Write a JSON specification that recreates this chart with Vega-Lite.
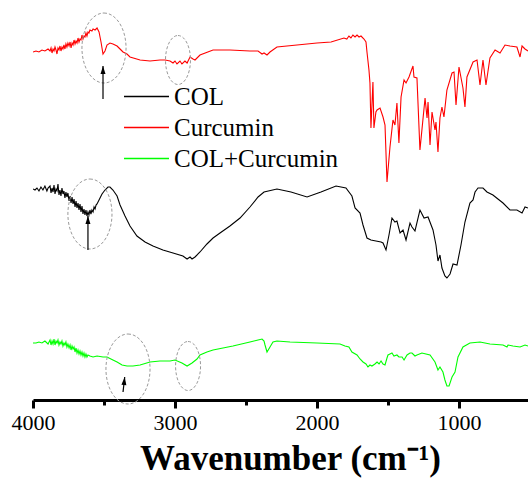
{
  "$schema": "https://vega.github.io/schema/vega-lite/v6.json",
  "width": 495,
  "height": 400,
  "autosize": {"type": "none"},
  "padding": {"left": 33, "top": 0, "right": 0, "bottom": 78},
  "config": {"view": {"stroke": null}, "font": "Liberation Serif"},
  "datasets": {
    "spectra": [
      {"s":"Curcumin","w":4000,"T":348},{"s":"Curcumin","w":3979,"T":349},{"s":"Curcumin","w":3958,"T":348},{"s":"Curcumin","w":3937,"T":350},{"s":"Curcumin","w":3916,"T":349},{"s":"Curcumin","w":3894,"T":351},{"s":"Curcumin","w":3880,"T":349},{"s":"Curcumin","w":3873,"T":352},{"s":"Curcumin","w":3866,"T":347},{"s":"Curcumin","w":3859,"T":351},{"s":"Curcumin","w":3852,"T":349},{"s":"Curcumin","w":3845,"T":353},{"s":"Curcumin","w":3838,"T":350},{"s":"Curcumin","w":3831,"T":346},{"s":"Curcumin","w":3824,"T":352},{"s":"Curcumin","w":3817,"T":350},{"s":"Curcumin","w":3810,"T":354},{"s":"Curcumin","w":3803,"T":349},{"s":"Curcumin","w":3796,"T":353},{"s":"Curcumin","w":3789,"T":351},{"s":"Curcumin","w":3782,"T":355},{"s":"Curcumin","w":3775,"T":351},{"s":"Curcumin","w":3768,"T":356},{"s":"Curcumin","w":3761,"T":353},{"s":"Curcumin","w":3754,"T":357},{"s":"Curcumin","w":3746,"T":354},{"s":"Curcumin","w":3739,"T":358},{"s":"Curcumin","w":3732,"T":352},{"s":"Curcumin","w":3725,"T":357},{"s":"Curcumin","w":3718,"T":355},{"s":"Curcumin","w":3711,"T":360},{"s":"Curcumin","w":3704,"T":356},{"s":"Curcumin","w":3697,"T":359},{"s":"Curcumin","w":3690,"T":357},{"s":"Curcumin","w":3683,"T":362},{"s":"Curcumin","w":3676,"T":358},{"s":"Curcumin","w":3669,"T":361},{"s":"Curcumin","w":3662,"T":360},{"s":"Curcumin","w":3655,"T":365},{"s":"Curcumin","w":3648,"T":361},{"s":"Curcumin","w":3641,"T":364},{"s":"Curcumin","w":3634,"T":363},{"s":"Curcumin","w":3627,"T":367},{"s":"Curcumin","w":3620,"T":364},{"s":"Curcumin","w":3613,"T":368},{"s":"Curcumin","w":3606,"T":367},{"s":"Curcumin","w":3599,"T":370},{"s":"Curcumin","w":3585,"T":369},{"s":"Curcumin","w":3577,"T":371},{"s":"Curcumin","w":3563,"T":370},{"s":"Curcumin","w":3549,"T":372},{"s":"Curcumin","w":3535,"T":368},{"s":"Curcumin","w":3521,"T":358},{"s":"Curcumin","w":3507,"T":346},{"s":"Curcumin","w":3493,"T":349},{"s":"Curcumin","w":3479,"T":355},{"s":"Curcumin","w":3458,"T":357},{"s":"Curcumin","w":3437,"T":356},{"s":"Curcumin","w":3408,"T":354},{"s":"Curcumin","w":3387,"T":351},{"s":"Curcumin","w":3366,"T":348},{"s":"Curcumin","w":3338,"T":346},{"s":"Curcumin","w":3317,"T":343},{"s":"Curcumin","w":3246,"T":340},{"s":"Curcumin","w":3176,"T":339},{"s":"Curcumin","w":3106,"T":340},{"s":"Curcumin","w":3070,"T":340},{"s":"Curcumin","w":3035,"T":339},{"s":"Curcumin","w":3014,"T":337},{"s":"Curcumin","w":3000,"T":339},{"s":"Curcumin","w":2986,"T":336},{"s":"Curcumin","w":2965,"T":339},{"s":"Curcumin","w":2951,"T":336},{"s":"Curcumin","w":2930,"T":339},{"s":"Curcumin","w":2915,"T":337},{"s":"Curcumin","w":2894,"T":343},{"s":"Curcumin","w":2873,"T":341},{"s":"Curcumin","w":2859,"T":340},{"s":"Curcumin","w":2824,"T":345},{"s":"Curcumin","w":2732,"T":350},{"s":"Curcumin","w":2613,"T":350},{"s":"Curcumin","w":2472,"T":349},{"s":"Curcumin","w":2415,"T":349},{"s":"Curcumin","w":2387,"T":346},{"s":"Curcumin","w":2373,"T":347},{"s":"Curcumin","w":2352,"T":345},{"s":"Curcumin","w":2331,"T":348},{"s":"Curcumin","w":2282,"T":353},{"s":"Curcumin","w":2141,"T":355},{"s":"Curcumin","w":2000,"T":357},{"s":"Curcumin","w":1901,"T":358},{"s":"Curcumin","w":1810,"T":362},{"s":"Curcumin","w":1790,"T":361},{"s":"Curcumin","w":1775,"T":364},{"s":"Curcumin","w":1761,"T":362},{"s":"Curcumin","w":1747,"T":365},{"s":"Curcumin","w":1732,"T":363},{"s":"Curcumin","w":1718,"T":365},{"s":"Curcumin","w":1704,"T":363},{"s":"Curcumin","w":1690,"T":364},{"s":"Curcumin","w":1669,"T":361},{"s":"Curcumin","w":1655,"T":358},{"s":"Curcumin","w":1648,"T":348},{"s":"Curcumin","w":1634,"T":330},{"s":"Curcumin","w":1627,"T":317},{"s":"Curcumin","w":1620,"T":272},{"s":"Curcumin","w":1606,"T":318},{"s":"Curcumin","w":1599,"T":272},{"s":"Curcumin","w":1585,"T":288},{"s":"Curcumin","w":1577,"T":290},{"s":"Curcumin","w":1556,"T":292},{"s":"Curcumin","w":1535,"T":283},{"s":"Curcumin","w":1521,"T":275},{"s":"Curcumin","w":1507,"T":218},{"s":"Curcumin","w":1486,"T":253},{"s":"Curcumin","w":1465,"T":280},{"s":"Curcumin","w":1451,"T":275},{"s":"Curcumin","w":1437,"T":297},{"s":"Curcumin","w":1423,"T":257},{"s":"Curcumin","w":1408,"T":303},{"s":"Curcumin","w":1387,"T":320},{"s":"Curcumin","w":1373,"T":317},{"s":"Curcumin","w":1352,"T":323},{"s":"Curcumin","w":1324,"T":334},{"s":"Curcumin","w":1317,"T":323},{"s":"Curcumin","w":1296,"T":322},{"s":"Curcumin","w":1275,"T":250},{"s":"Curcumin","w":1239,"T":302},{"s":"Curcumin","w":1225,"T":282},{"s":"Curcumin","w":1218,"T":298},{"s":"Curcumin","w":1204,"T":255},{"s":"Curcumin","w":1190,"T":288},{"s":"Curcumin","w":1169,"T":270},{"s":"Curcumin","w":1162,"T":278},{"s":"Curcumin","w":1148,"T":248},{"s":"Curcumin","w":1134,"T":282},{"s":"Curcumin","w":1120,"T":293},{"s":"Curcumin","w":1106,"T":283},{"s":"Curcumin","w":1085,"T":310},{"s":"Curcumin","w":1049,"T":327},{"s":"Curcumin","w":1035,"T":328},{"s":"Curcumin","w":1021,"T":295},{"s":"Curcumin","w":1000,"T":333},{"s":"Curcumin","w":972,"T":312},{"s":"Curcumin","w":958,"T":293},{"s":"Curcumin","w":944,"T":323},{"s":"Curcumin","w":901,"T":338},{"s":"Curcumin","w":873,"T":340},{"s":"Curcumin","w":852,"T":315},{"s":"Curcumin","w":831,"T":340},{"s":"Curcumin","w":810,"T":315},{"s":"Curcumin","w":782,"T":342},{"s":"Curcumin","w":746,"T":350},{"s":"Curcumin","w":711,"T":347},{"s":"Curcumin","w":676,"T":355},{"s":"Curcumin","w":641,"T":354},{"s":"Curcumin","w":592,"T":353},{"s":"Curcumin","w":570,"T":343},{"s":"Curcumin","w":556,"T":354},{"s":"Curcumin","w":535,"T":351},{"s":"Curcumin","w":514,"T":349},
      {"s":"COL","w":4000,"T":211},{"s":"COL","w":3986,"T":210},{"s":"COL","w":3972,"T":212},{"s":"COL","w":3958,"T":209},{"s":"COL","w":3944,"T":213},{"s":"COL","w":3930,"T":210},{"s":"COL","w":3916,"T":214},{"s":"COL","w":3902,"T":209},{"s":"COL","w":3894,"T":212},{"s":"COL","w":3880,"T":214},{"s":"COL","w":3873,"T":207},{"s":"COL","w":3866,"T":212},{"s":"COL","w":3859,"T":208},{"s":"COL","w":3852,"T":215},{"s":"COL","w":3845,"T":206},{"s":"COL","w":3838,"T":211},{"s":"COL","w":3831,"T":209},{"s":"COL","w":3824,"T":216},{"s":"COL","w":3817,"T":205},{"s":"COL","w":3810,"T":210},{"s":"COL","w":3803,"T":204},{"s":"COL","w":3796,"T":212},{"s":"COL","w":3789,"T":206},{"s":"COL","w":3782,"T":209},{"s":"COL","w":3775,"T":202},{"s":"COL","w":3768,"T":208},{"s":"COL","w":3761,"T":203},{"s":"COL","w":3754,"T":207},{"s":"COL","w":3746,"T":199},{"s":"COL","w":3739,"T":204},{"s":"COL","w":3732,"T":197},{"s":"COL","w":3725,"T":203},{"s":"COL","w":3718,"T":196},{"s":"COL","w":3711,"T":201},{"s":"COL","w":3704,"T":193},{"s":"COL","w":3697,"T":199},{"s":"COL","w":3690,"T":192},{"s":"COL","w":3683,"T":197},{"s":"COL","w":3676,"T":190},{"s":"COL","w":3669,"T":196},{"s":"COL","w":3662,"T":188},{"s":"COL","w":3655,"T":194},{"s":"COL","w":3648,"T":186},{"s":"COL","w":3641,"T":191},{"s":"COL","w":3634,"T":185},{"s":"COL","w":3627,"T":190},{"s":"COL","w":3620,"T":184},{"s":"COL","w":3613,"T":188},{"s":"COL","w":3606,"T":185},{"s":"COL","w":3599,"T":190},{"s":"COL","w":3592,"T":186},{"s":"COL","w":3585,"T":190},{"s":"COL","w":3577,"T":188},{"s":"COL","w":3570,"T":193},{"s":"COL","w":3563,"T":191},{"s":"COL","w":3556,"T":195},{"s":"COL","w":3549,"T":196},{"s":"COL","w":3528,"T":202},{"s":"COL","w":3514,"T":206},{"s":"COL","w":3493,"T":210},{"s":"COL","w":3472,"T":213},{"s":"COL","w":3458,"T":213},{"s":"COL","w":3437,"T":210},{"s":"COL","w":3408,"T":204},{"s":"COL","w":3387,"T":195},{"s":"COL","w":3352,"T":184},{"s":"COL","w":3317,"T":174},{"s":"COL","w":3268,"T":164},{"s":"COL","w":3211,"T":158},{"s":"COL","w":3155,"T":154},{"s":"COL","w":3085,"T":150},{"s":"COL","w":3014,"T":147},{"s":"COL","w":2944,"T":144},{"s":"COL","w":2915,"T":141},{"s":"COL","w":2894,"T":143},{"s":"COL","w":2880,"T":141},{"s":"COL","w":2859,"T":143},{"s":"COL","w":2824,"T":148},{"s":"COL","w":2775,"T":156},{"s":"COL","w":2732,"T":162},{"s":"COL","w":2683,"T":167},{"s":"COL","w":2613,"T":174},{"s":"COL","w":2542,"T":182},{"s":"COL","w":2472,"T":193},{"s":"COL","w":2415,"T":203},{"s":"COL","w":2373,"T":208},{"s":"COL","w":2282,"T":211},{"s":"COL","w":2183,"T":208},{"s":"COL","w":2070,"T":203},{"s":"COL","w":1972,"T":208},{"s":"COL","w":1866,"T":214},{"s":"COL","w":1796,"T":212},{"s":"COL","w":1754,"T":204},{"s":"COL","w":1732,"T":192},{"s":"COL","w":1697,"T":187},{"s":"COL","w":1676,"T":175},{"s":"COL","w":1648,"T":162},{"s":"COL","w":1620,"T":160},{"s":"COL","w":1585,"T":159},{"s":"COL","w":1549,"T":158},{"s":"COL","w":1535,"T":157},{"s":"COL","w":1514,"T":150},{"s":"COL","w":1493,"T":165},{"s":"COL","w":1472,"T":182},{"s":"COL","w":1451,"T":178},{"s":"COL","w":1437,"T":179},{"s":"COL","w":1415,"T":167},{"s":"COL","w":1394,"T":170},{"s":"COL","w":1373,"T":160},{"s":"COL","w":1345,"T":177},{"s":"COL","w":1331,"T":173},{"s":"COL","w":1310,"T":169},{"s":"COL","w":1275,"T":190},{"s":"COL","w":1246,"T":182},{"s":"COL","w":1218,"T":183},{"s":"COL","w":1183,"T":170},{"s":"COL","w":1162,"T":155},{"s":"COL","w":1148,"T":139},{"s":"COL","w":1134,"T":145},{"s":"COL","w":1120,"T":132},{"s":"COL","w":1099,"T":124},{"s":"COL","w":1085,"T":122},{"s":"COL","w":1063,"T":126},{"s":"COL","w":1042,"T":136},{"s":"COL","w":1014,"T":135},{"s":"COL","w":986,"T":155},{"s":"COL","w":958,"T":178},{"s":"COL","w":923,"T":197},{"s":"COL","w":901,"T":200},{"s":"COL","w":887,"T":208},{"s":"COL","w":866,"T":212},{"s":"COL","w":831,"T":212},{"s":"COL","w":803,"T":208},{"s":"COL","w":761,"T":205},{"s":"COL","w":690,"T":197},{"s":"COL","w":641,"T":190},{"s":"COL","w":592,"T":190},{"s":"COL","w":556,"T":187},{"s":"COL","w":535,"T":193},{"s":"COL","w":514,"T":192},
      {"s":"COL+Curcumin","w":4000,"T":57},{"s":"COL+Curcumin","w":3979,"T":57},{"s":"COL+Curcumin","w":3958,"T":58},{"s":"COL+Curcumin","w":3937,"T":57},{"s":"COL+Curcumin","w":3916,"T":59},{"s":"COL+Curcumin","w":3894,"T":56},{"s":"COL+Curcumin","w":3880,"T":60},{"s":"COL+Curcumin","w":3873,"T":55},{"s":"COL+Curcumin","w":3866,"T":59},{"s":"COL+Curcumin","w":3859,"T":56},{"s":"COL+Curcumin","w":3852,"T":61},{"s":"COL+Curcumin","w":3845,"T":55},{"s":"COL+Curcumin","w":3838,"T":59},{"s":"COL+Curcumin","w":3831,"T":57},{"s":"COL+Curcumin","w":3824,"T":60},{"s":"COL+Curcumin","w":3817,"T":55},{"s":"COL+Curcumin","w":3810,"T":58},{"s":"COL+Curcumin","w":3803,"T":56},{"s":"COL+Curcumin","w":3796,"T":59},{"s":"COL+Curcumin","w":3789,"T":54},{"s":"COL+Curcumin","w":3782,"T":57},{"s":"COL+Curcumin","w":3775,"T":55},{"s":"COL+Curcumin","w":3768,"T":58},{"s":"COL+Curcumin","w":3761,"T":53},{"s":"COL+Curcumin","w":3754,"T":56},{"s":"COL+Curcumin","w":3746,"T":52},{"s":"COL+Curcumin","w":3739,"T":55},{"s":"COL+Curcumin","w":3732,"T":50},{"s":"COL+Curcumin","w":3725,"T":54},{"s":"COL+Curcumin","w":3718,"T":51},{"s":"COL+Curcumin","w":3711,"T":53},{"s":"COL+Curcumin","w":3704,"T":48},{"s":"COL+Curcumin","w":3697,"T":52},{"s":"COL+Curcumin","w":3690,"T":47},{"s":"COL+Curcumin","w":3683,"T":50},{"s":"COL+Curcumin","w":3676,"T":46},{"s":"COL+Curcumin","w":3669,"T":49},{"s":"COL+Curcumin","w":3662,"T":45},{"s":"COL+Curcumin","w":3655,"T":48},{"s":"COL+Curcumin","w":3648,"T":44},{"s":"COL+Curcumin","w":3641,"T":47},{"s":"COL+Curcumin","w":3634,"T":43},{"s":"COL+Curcumin","w":3627,"T":46},{"s":"COL+Curcumin","w":3620,"T":43},{"s":"COL+Curcumin","w":3613,"T":45},{"s":"COL+Curcumin","w":3599,"T":44},{"s":"COL+Curcumin","w":3577,"T":43},{"s":"COL+Curcumin","w":3549,"T":44},{"s":"COL+Curcumin","w":3507,"T":43},{"s":"COL+Curcumin","w":3479,"T":43},{"s":"COL+Curcumin","w":3437,"T":40},{"s":"COL+Curcumin","w":3408,"T":38},{"s":"COL+Curcumin","w":3373,"T":35},{"s":"COL+Curcumin","w":3338,"T":34},{"s":"COL+Curcumin","w":3296,"T":34},{"s":"COL+Curcumin","w":3246,"T":35},{"s":"COL+Curcumin","w":3176,"T":38},{"s":"COL+Curcumin","w":3106,"T":39},{"s":"COL+Curcumin","w":3035,"T":39},{"s":"COL+Curcumin","w":3000,"T":40},{"s":"COL+Curcumin","w":2951,"T":37},{"s":"COL+Curcumin","w":2915,"T":34},{"s":"COL+Curcumin","w":2880,"T":37},{"s":"COL+Curcumin","w":2845,"T":41},{"s":"COL+Curcumin","w":2824,"T":45},{"s":"COL+Curcumin","w":2775,"T":48},{"s":"COL+Curcumin","w":2732,"T":50},{"s":"COL+Curcumin","w":2592,"T":54},{"s":"COL+Curcumin","w":2472,"T":58},{"s":"COL+Curcumin","w":2415,"T":60},{"s":"COL+Curcumin","w":2387,"T":61},{"s":"COL+Curcumin","w":2373,"T":59},{"s":"COL+Curcumin","w":2366,"T":55},{"s":"COL+Curcumin","w":2352,"T":48},{"s":"COL+Curcumin","w":2331,"T":53},{"s":"COL+Curcumin","w":2310,"T":58},{"s":"COL+Curcumin","w":2282,"T":59},{"s":"COL+Curcumin","w":2190,"T":58},{"s":"COL+Curcumin","w":2000,"T":57},{"s":"COL+Curcumin","w":1838,"T":56},{"s":"COL+Curcumin","w":1803,"T":54},{"s":"COL+Curcumin","w":1775,"T":53},{"s":"COL+Curcumin","w":1754,"T":48},{"s":"COL+Curcumin","w":1718,"T":45},{"s":"COL+Curcumin","w":1697,"T":41},{"s":"COL+Curcumin","w":1676,"T":38},{"s":"COL+Curcumin","w":1655,"T":36},{"s":"COL+Curcumin","w":1641,"T":33},{"s":"COL+Curcumin","w":1627,"T":35},{"s":"COL+Curcumin","w":1613,"T":34},{"s":"COL+Curcumin","w":1592,"T":36},{"s":"COL+Curcumin","w":1577,"T":38},{"s":"COL+Curcumin","w":1563,"T":36},{"s":"COL+Curcumin","w":1549,"T":39},{"s":"COL+Curcumin","w":1535,"T":36},{"s":"COL+Curcumin","w":1521,"T":35},{"s":"COL+Curcumin","w":1507,"T":42},{"s":"COL+Curcumin","w":1500,"T":45},{"s":"COL+Curcumin","w":1486,"T":46},{"s":"COL+Curcumin","w":1472,"T":47},{"s":"COL+Curcumin","w":1458,"T":44},{"s":"COL+Curcumin","w":1437,"T":45},{"s":"COL+Curcumin","w":1423,"T":43},{"s":"COL+Curcumin","w":1401,"T":43},{"s":"COL+Curcumin","w":1387,"T":40},{"s":"COL+Curcumin","w":1366,"T":45},{"s":"COL+Curcumin","w":1345,"T":47},{"s":"COL+Curcumin","w":1331,"T":47},{"s":"COL+Curcumin","w":1310,"T":44},{"s":"COL+Curcumin","w":1296,"T":45},{"s":"COL+Curcumin","w":1261,"T":47},{"s":"COL+Curcumin","w":1204,"T":45},{"s":"COL+Curcumin","w":1169,"T":38},{"s":"COL+Curcumin","w":1148,"T":30},{"s":"COL+Curcumin","w":1134,"T":33},{"s":"COL+Curcumin","w":1113,"T":28},{"s":"COL+Curcumin","w":1099,"T":20},{"s":"COL+Curcumin","w":1085,"T":14},{"s":"COL+Curcumin","w":1070,"T":14},{"s":"COL+Curcumin","w":1049,"T":23},{"s":"COL+Curcumin","w":1028,"T":28},{"s":"COL+Curcumin","w":1007,"T":43},{"s":"COL+Curcumin","w":972,"T":53},{"s":"COL+Curcumin","w":923,"T":57},{"s":"COL+Curcumin","w":852,"T":58},{"s":"COL+Curcumin","w":782,"T":56},{"s":"COL+Curcumin","w":690,"T":55},{"s":"COL+Curcumin","w":662,"T":53},{"s":"COL+Curcumin","w":655,"T":55},{"s":"COL+Curcumin","w":620,"T":54},{"s":"COL+Curcumin","w":570,"T":53},{"s":"COL+Curcumin","w":535,"T":55},{"s":"COL+Curcumin","w":514,"T":54}
    ],
    "bigEllipses": [{"w":3500,"T":352},{"w":3599,"T":186},{"w":3331,"T":31}],
    "smallEllipses": [{"w":2979,"T":340},{"w":2908,"T":34}],
    "arrows": [{"w":3507,"T":301,"w2":3507,"T2":334},{"w":3613,"T":150,"w2":3613,"T2":184}],
    "tiltArrow": [{"w":3366,"T":8,"w2":3354,"T2":23}]
  },
  "layer": [
    {
      "data": {"name": "spectra"},
      "mark": {"type": "line", "strokeWidth": 1.1, "clip": true},
      "encoding": {
        "x": {"field": "w", "type": "quantitative",
          "scale": {"domain": [4000, 514], "nice": false, "zero": false},
          "axis": {"orient": "bottom", "values": [4000, 3000, 2000, 1000], "format": "d", "title": "Wavenumber (cm⁻¹)", "grid": false,
            "domainWidth": 3, "domainColor": "#000", "tickWidth": 3, "tickColor": "#000", "tickSize": 8,
            "labelFont": "Liberation Serif", "labelFontSize": 22, "labelColor": "#000", "labelPadding": 4, "labelFlush": false, "labelOverlap": false,
            "titleFont": "Liberation Serif", "titleFontSize": 35, "titleFontWeight": "bold", "titleColor": "#000", "titlePadding": 8, "titleX": 257}},
        "y": {"field": "T", "type": "quantitative", "scale": {"domain": [0, 400], "nice": false, "zero": false}, "axis": null},
        "color": {"field": "s", "type": "nominal",
          "scale": {"domain": ["COL", "Curcumin", "COL+Curcumin"], "range": ["#000000", "#ff0000", "#00ff00"]},
          "legend": {"orient": "none", "legendX": 101, "legendY": 84, "title": null, "symbolType": "M-2,0L2,0", "symbolSize": 506, "symbolStrokeWidth": 1.5, "symbolFillColor": "transparent",
            "labelFont": "Liberation Serif", "labelFontSize": 25, "labelColor": "#000", "labelOffset": 15, "rowPadding": 5, "padding": 0, "labelLimit": 300}}
      }
    },
    {
      "data": {"name": "bigEllipses"},
      "mark": {"type": "point", "shape": "M0,-1C0.348,-1 0.63,-0.552 0.63,0C0.63,0.552 0.348,1 0,1C-0.348,1 -0.63,0.552 -0.63,0C-0.63,-0.552 -0.348,-1 0,-1Z",
        "size": 4900, "filled": false, "stroke": "#9a9a9a", "strokeWidth": 1, "strokeDash": [3, 2], "opacity": 1},
      "encoding": {
        "x": {"field": "w", "type": "quantitative", "scale": {"domain": [4000, 514], "nice": false, "zero": false},
          "axis": {"orient": "bottom", "values": [3500, 2500, 1500], "labels": false, "domain": false, "grid": false, "title": null, "tickSize": 5, "tickWidth": 3, "tickColor": "#000"}},
        "y": {"field": "T", "type": "quantitative", "scale": {"domain": [0, 400], "nice": false, "zero": false}, "axis": null}
      }
    },
    {
      "data": {"name": "smallEllipses"},
      "mark": {"type": "point", "shape": "M0,-1C0.282,-1 0.51,-0.552 0.51,0C0.51,0.552 0.282,1 0,1C-0.282,1 -0.51,0.552 -0.51,0C-0.51,-0.552 -0.282,-1 0,-1Z",
        "size": 2401, "filled": false, "stroke": "#9a9a9a", "strokeWidth": 1, "strokeDash": [3, 2], "opacity": 1},
      "encoding": {
        "x": {"field": "w", "type": "quantitative", "scale": {"domain": [4000, 514], "nice": false, "zero": false}, "axis": null},
        "y": {"field": "T", "type": "quantitative", "scale": {"domain": [0, 400], "nice": false, "zero": false}, "axis": null}
      }
    },
    {
      "data": {"name": "arrows"},
      "mark": {"type": "rule", "color": "#000", "strokeWidth": 1.2},
      "encoding": {
        "x": {"field": "w", "type": "quantitative", "scale": {"domain": [4000, 514], "nice": false, "zero": false}, "axis": null},
        "x2": {"field": "w2"},
        "y": {"field": "T", "type": "quantitative", "scale": {"domain": [0, 400], "nice": false, "zero": false}, "axis": null},
        "y2": {"field": "T2"}
      }
    },
    {
      "data": {"name": "arrows"},
      "mark": {"type": "point", "shape": "M0,0L0.5,1.6L-0.5,1.6Z", "size": 100, "filled": true, "color": "#000", "opacity": 1, "strokeWidth": 0},
      "encoding": {
        "x": {"field": "w2", "type": "quantitative", "scale": {"domain": [4000, 514], "nice": false, "zero": false}, "axis": null},
        "y": {"field": "T2", "type": "quantitative", "scale": {"domain": [0, 400], "nice": false, "zero": false}, "axis": null}
      }
    },
    {
      "data": {"name": "tiltArrow"},
      "mark": {"type": "rule", "color": "#000", "strokeWidth": 1.2},
      "encoding": {
        "x": {"field": "w", "type": "quantitative", "scale": {"domain": [4000, 514], "nice": false, "zero": false}, "axis": null},
        "x2": {"field": "w2"},
        "y": {"field": "T", "type": "quantitative", "scale": {"domain": [0, 400], "nice": false, "zero": false}, "axis": null},
        "y2": {"field": "T2"}
      }
    },
    {
      "data": {"name": "tiltArrow"},
      "mark": {"type": "point", "shape": "M0,0L0.5,1.6L-0.5,1.6Z", "size": 100, "filled": true, "color": "#000", "opacity": 1, "strokeWidth": 0, "angle": 6},
      "encoding": {
        "x": {"field": "w2", "type": "quantitative", "scale": {"domain": [4000, 514], "nice": false, "zero": false}, "axis": null},
        "y": {"field": "T2", "type": "quantitative", "scale": {"domain": [0, 400], "nice": false, "zero": false}, "axis": null}
      }
    }
  ],
  "resolve": {"axis": {"x": "independent"}}
}
